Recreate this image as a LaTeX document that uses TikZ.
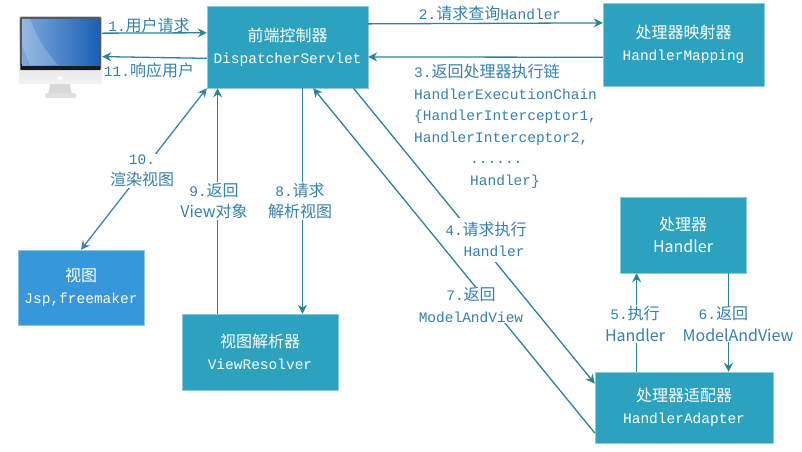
\documentclass[tikz,border=0pt]{standalone}
\usepackage{fontspec}
\setmainfont{Noto Sans CJK SC}
\setmonofont{Liberation Mono}
\usetikzlibrary{arrows.meta}
\definecolor{boxteal}{HTML}{2CA2BF}
\definecolor{boxblue}{HTML}{3797DB}
\definecolor{edgeteal}{HTML}{8CCADB}
\definecolor{lineteal}{HTML}{2B8299}
\definecolor{lineblue}{HTML}{3A86AE}
\definecolor{labblue}{HTML}{3580AE}
\definecolor{screenl}{HTML}{7DAADD}
\definecolor{screenr}{HTML}{1A5FB4}
\newcommand{\mn}[1]{{\fontsize{14.5}{21.5}\selectfont\ttfamily #1}}
\tikzset{
  boxnode/.style={draw=edgeteal,fill=boxteal,text=white,align=center,inner sep=0pt,
    font=\fontsize{16}{22}\selectfont},
  labnode/.style={text=labblue,align=center,inner sep=1pt,
    font=\fontsize{16}{21.5}\selectfont},
  gaplab/.style={labnode,fill=white},
  conn/.style={draw=lineteal,line width=1.3pt,-{Stealth[length=9pt,width=9pt]}},
}
\begin{document}
\begin{tikzpicture}[x=1pt,y=-1pt]
\useasboundingbox (0,0) rectangle (802,451);
\node (pc) at (60.5,50) [minimum width=83pt,minimum height=68pt,inner sep=0pt,rounded corners=2pt,
  top color=white!80!black,bottom color=white!95!black] {};
\fill [black!65,rounded corners=1pt] (20,17) rectangle (101,70);
\fill [black!90] (21,64) rectangle (100,70);
\shade [left color=screenl,right color=screenr] (22,19) rectangle (100,65);
\fill [white,opacity=0.18] (30,19) .. controls (38,40) and (45,50) .. (58,65) -- (30,65) -- (22,45) -- (22,19) -- cycle;
\fill [white] (60,78) circle (2pt);
\fill [white!85!black] (50,84) -- (70,84) -- (72,94) -- (48,94) -- cycle;
\fill [white!88!black,rounded corners=1.5pt] (45,93) rectangle (76,98);

\node (front) at (287.5,47) [boxnode,minimum width=161pt,minimum height=82pt] {前端控制器\\\mn{DispatcherServlet}};
\node (mapping) at (683.5,44.5) [boxnode,minimum width=161pt,minimum height=83pt] {处理器映射器\\\mn{HandlerMapping}};
\node (view) at (81,287.5) [boxnode,fill=boxblue,minimum width=126pt,minimum height=75pt] {视图\\\mn{Jsp,freemaker}};
\node (resolver) at (260,352) [boxnode,minimum width=156pt,minimum height=76pt] {视图解析器\\\mn{ViewResolver}};
\node (handler) at (683,235) [boxnode,minimum width=126pt,minimum height=76pt] {处理器\\Handler};
\node (adapter) at (684,407.5) [boxnode,minimum width=178pt,minimum height=71pt] {处理器适配器\\\mn{HandlerAdapter}};

\draw [conn] (pc.22.3) -- (front.170.1);
\draw [conn] (front.-172.9) -- (pc.-9.6);
\draw [conn] (front.16.6) -- (mapping.165);
\draw [conn] (mapping.-171.2) -- (front.-7.1);
\draw [conn,draw=lineblue,{Stealth[length=9pt,width=9pt]}-{Stealth[length=9pt,width=9pt]}] (front.south west) -- (view.north);
\draw [conn] (resolver.138.5) -- (resolver.138.5 |- front.south);
\draw [conn] (front.-70.5) -- (front.-70.5 |- resolver.north);
\draw [conn] (adapter.143) -- (adapter.143 |- handler.south);
\draw [conn] (handler.-40.8) -- (handler.-40.8 |- adapter.north);
\draw [conn] (adapter.-164.4) -- (front.-58.7);

\node (lab7) at (471,305) [gaplab] {\mn{7.}返回\\\mn{ModelAndView}};
\draw [conn] (front.-32) -- (adapter.165.7);
\node (lab4a) at (486,229) [gaplab,minimum height=22pt] {\mn{4.}请求执行};
\node (lab4b) at (494,251) [gaplab,minimum height=22pt] {\mn{Handler}};

\node (lab1) at (149,25) [labnode] {\mn{1.}用户请求};
\node (lab11) at (149,70) [labnode] {\mn{11.}响应用户};
\node (lab2) at (490,13) [labnode] {\mn{2.}请求查询\mn{Handler}};
\node (lab3) at (414,64) [labnode,anchor=north west,align=left,inner sep=0pt] {\mn{3.}返回处理器执行链\\\mn{HandlerExecutionChain}\\\mn{\{HandlerInterceptor1,}\\\mn{HandlerInterceptor2,}\\\hspace*{56pt}\mn{......}\\\hspace*{56pt}\mn{Handler\}}};
\node (lab10) at (142,171) [gaplab] {\mn{10.}\\渲染视图};
\node (lab9) at (214,201) [gaplab] {\mn{9.}返回\\View对象};
\node (lab8) at (300,201) [gaplab] {\mn{8.}请求\\解析视图};
\node (lab5) at (635,324) [gaplab] {\mn{5.}执行\\Handler};
\node (lab6) at (738,324) [gaplab,align=left] {\hspace*{16pt}\mn{6.}返回\\ModelAndView};
\end{tikzpicture}
\end{document}
